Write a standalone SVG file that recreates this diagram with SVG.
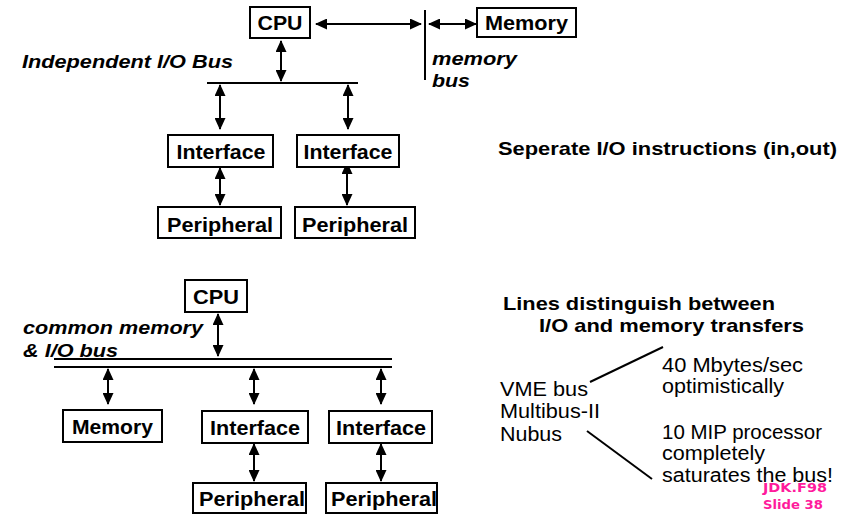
<svg xmlns="http://www.w3.org/2000/svg" width="857" height="515" viewBox="0 0 857 515">
  <style>
    .box { fill: #fff; stroke: #000; stroke-width: 2; }
    .lbl { font-family: "Liberation Sans", Arial, sans-serif; font-weight: bold; font-size: 20px; fill: #000; text-anchor: middle; }
    .it { font-family: "Liberation Sans", Arial, sans-serif; font-weight: bold; font-style: italic; font-size: 18px; fill: #000; }
    .hd { font-family: "Liberation Sans", Arial, sans-serif; font-weight: bold; font-size: 19px; fill: #000; }
    .tx { font-family: "Liberation Sans", Arial, sans-serif; font-size: 20px; fill: #000; }
    .tag { font-family: "Comic Sans MS", "DejaVu Sans", sans-serif; font-weight: bold; font-size: 13px; fill: #ff1a9c; }
    .ln { stroke: #000; stroke-width: 2; fill: none; }
    .ar { stroke: #000; stroke-width: 2; fill: none; marker-start: url(#ah); marker-end: url(#ah); }
  </style>
  <defs>
    <marker id="ah" viewBox="0 0 12 11" refX="11" refY="5.5" markerWidth="12" markerHeight="11" markerUnits="userSpaceOnUse" orient="auto-start-reverse">
      <path d="M0,0 L12,5.5 L0,11 Z" fill="#000"/>
    </marker>
  </defs>

  <!-- Upper diagram: separate I/O bus -->
  <g id="connectors-top">
    <line class="ar" x1="316" y1="24" x2="421" y2="24"/>
    <line class="ar" x1="429" y1="24" x2="476" y2="24"/>
    <line class="ln" x1="425" y1="10" x2="425" y2="80"/>
    <line class="ar" x1="281" y1="41" x2="281" y2="81"/>
    <line class="ln" x1="207" y1="83" x2="358" y2="83"/>
    <line class="ar" x1="220" y1="85" x2="220" y2="129"/>
    <line class="ar" x1="348" y1="85" x2="348" y2="129"/>
    <line class="ar" x1="220" y1="168" x2="220" y2="205"/>
    <line class="ar" x1="347" y1="163" x2="347" y2="205"/>
  </g>

  <g id="cpu-top">
    <rect class="box" x="250" y="7" width="60" height="31"/>
    <text class="lbl" x="280" y="30" textLength="45" lengthAdjust="spacingAndGlyphs">CPU</text>
  </g>
  <g id="memory-top">
    <rect class="box" x="477" y="8" width="99" height="29"/>
    <text class="lbl" x="526.5" y="30" textLength="83" lengthAdjust="spacingAndGlyphs">Memory</text>
  </g>
  <g id="interface-top-1">
    <rect class="box" x="168" y="135" width="105" height="32"/>
    <text class="lbl" x="221" y="158.5" textLength="89" lengthAdjust="spacingAndGlyphs">Interface</text>
  </g>
  <g id="interface-top-2">
    <rect class="box" x="297" y="135" width="102" height="32"/>
    <text class="lbl" x="348" y="158.5" textLength="89" lengthAdjust="spacingAndGlyphs">Interface</text>
  </g>
  <g id="peripheral-top-1">
    <rect class="box" x="158" y="207" width="123" height="31"/>
    <text class="lbl" x="220" y="231.5" textLength="106" lengthAdjust="spacingAndGlyphs">Peripheral</text>
  </g>
  <g id="peripheral-top-2">
    <rect class="box" x="295" y="207" width="120" height="31"/>
    <text class="lbl" x="355" y="231.5" textLength="106" lengthAdjust="spacingAndGlyphs">Peripheral</text>
  </g>

  <text class="it" x="22" y="68" textLength="211" lengthAdjust="spacingAndGlyphs">Independent I/O Bus</text>
  <text class="it" x="432" y="65" textLength="85" lengthAdjust="spacingAndGlyphs">memory</text>
  <text class="it" x="432" y="87" textLength="38" lengthAdjust="spacingAndGlyphs">bus</text>
  <text class="hd" x="498" y="155" textLength="339" lengthAdjust="spacingAndGlyphs">Seperate I/O instructions (in,out)</text>

  <!-- Lower diagram: common memory and I/O bus -->
  <g id="connectors-bottom">
    <line class="ar" x1="218" y1="314" x2="218" y2="356"/>
    <line class="ln" x1="54" y1="359" x2="392" y2="359"/>
    <line class="ln" x1="54" y1="367" x2="392" y2="367"/>
    <line class="ar" x1="108" y1="369" x2="108" y2="404"/>
    <line class="ar" x1="254" y1="369" x2="254" y2="404"/>
    <line class="ar" x1="381" y1="369" x2="381" y2="404"/>
    <line class="ar" x1="254" y1="444" x2="254" y2="481"/>
    <line class="ar" x1="381" y1="444" x2="381" y2="481"/>
  </g>

  <g id="cpu-bottom">
    <rect class="box" x="185" y="280" width="62" height="32"/>
    <text class="lbl" x="216" y="303.5" textLength="46" lengthAdjust="spacingAndGlyphs">CPU</text>
  </g>
  <g id="memory-bottom">
    <rect class="box" x="63" y="410" width="99" height="32"/>
    <text class="lbl" x="112.5" y="433.5" textLength="81" lengthAdjust="spacingAndGlyphs">Memory</text>
  </g>
  <g id="interface-bottom-1">
    <rect class="box" x="202" y="411" width="106" height="32"/>
    <text class="lbl" x="255" y="434.5" textLength="90" lengthAdjust="spacingAndGlyphs">Interface</text>
  </g>
  <g id="interface-bottom-2">
    <rect class="box" x="329" y="411" width="103" height="32"/>
    <text class="lbl" x="381" y="434.5" textLength="90" lengthAdjust="spacingAndGlyphs">Interface</text>
  </g>
  <g id="peripheral-bottom-1">
    <rect class="box" x="193" y="483" width="113" height="30"/>
    <text class="lbl" x="252" y="506" textLength="106" lengthAdjust="spacingAndGlyphs">Peripheral</text>
  </g>
  <g id="peripheral-bottom-2">
    <rect class="box" x="326" y="483" width="111" height="30"/>
    <text class="lbl" x="384" y="506" textLength="106" lengthAdjust="spacingAndGlyphs">Peripheral</text>
  </g>

  <text class="it" x="23" y="334" textLength="180" lengthAdjust="spacingAndGlyphs">common memory</text>
  <text class="it" x="23" y="357" textLength="95" lengthAdjust="spacingAndGlyphs">&amp; I/O bus</text>

  <text class="hd" x="503" y="310" textLength="272" lengthAdjust="spacingAndGlyphs">Lines distinguish between</text>
  <text class="hd" x="539" y="332" textLength="265" lengthAdjust="spacingAndGlyphs">I/O and memory transfers</text>

  <line class="ln" x1="590" y1="382" x2="663" y2="347"/>
  <line class="ln" x1="587" y1="431" x2="652" y2="479"/>

  <text class="tx" x="500" y="395.5" textLength="88" lengthAdjust="spacingAndGlyphs">VME bus</text>
  <text class="tx" x="500" y="418" textLength="100" lengthAdjust="spacingAndGlyphs">Multibus-II</text>
  <text class="tx" x="500" y="441" textLength="62" lengthAdjust="spacingAndGlyphs">Nubus</text>
  <text class="tx" x="662" y="372" textLength="141" lengthAdjust="spacingAndGlyphs">40 Mbytes/sec</text>
  <text class="tx" x="662" y="393" textLength="122" lengthAdjust="spacingAndGlyphs">optimistically</text>
  <text class="tx" x="662" y="439" textLength="160" lengthAdjust="spacingAndGlyphs">10 MIP processor</text>
  <text class="tx" x="662" y="460" textLength="103" lengthAdjust="spacingAndGlyphs">completely</text>
  <text class="tx" x="662" y="482" textLength="171" lengthAdjust="spacingAndGlyphs">saturates the bus!</text>

  <text class="tag" x="763" y="492" textLength="64" lengthAdjust="spacingAndGlyphs">JDK.F98</text>
  <text class="tag" x="763" y="509" textLength="60" lengthAdjust="spacingAndGlyphs">Slide 38</text>
</svg>
